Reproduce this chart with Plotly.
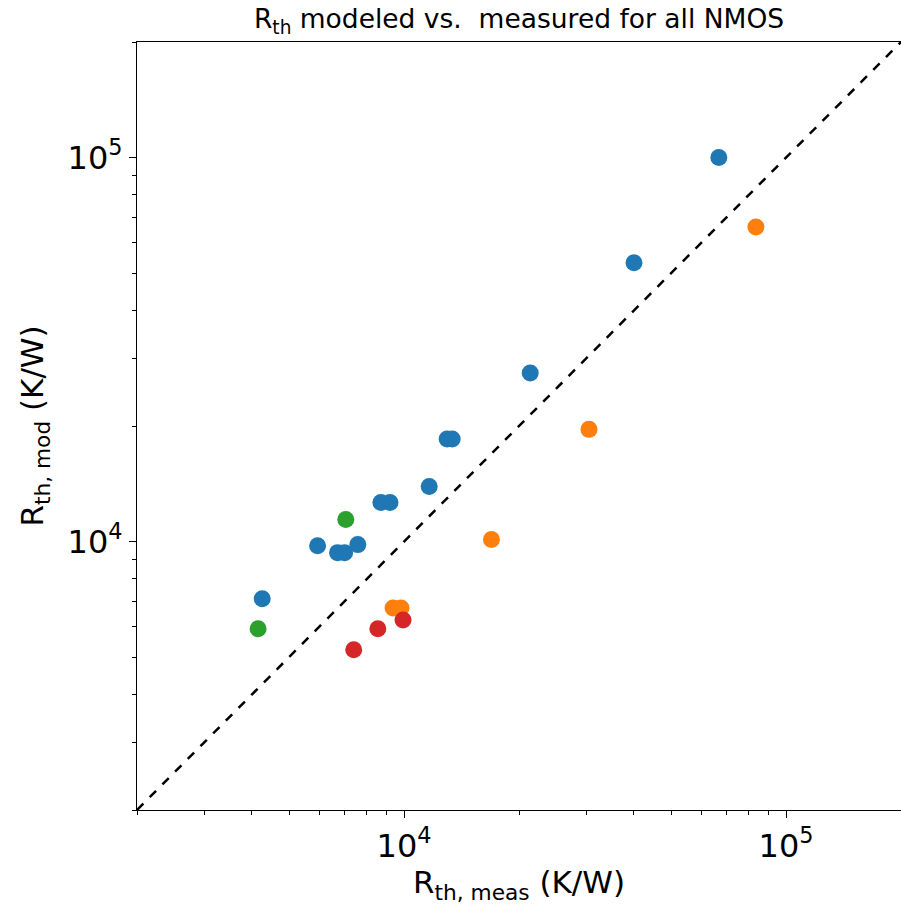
import plotly.graph_objects as go

blue_x = [66700, 40000, 21400, 12970, 13370, 11640, 8700, 9190, 5940, 6700, 6990, 7570, 4255]
blue_y = [100000, 53200, 27500, 18500, 18500, 13920, 12640, 12640, 9760, 9360, 9360, 9820, 7100]
orange_x = [83400, 30500, 16940, 9360, 9820]
orange_y = [66000, 19600, 10120, 6720, 6720]
green_x = [7040, 4150]
green_y = [11410, 5930]
red_x = [7385, 8540, 9940]
red_y = [5225, 5930, 6250]
diag = [2000, 200000]
major_ticks = [1e4, 1e5]
major_labels = ["10<sup>4</sup>", "10<sup>5</sup>"]
minor_ticks = [2000, 3000, 4000, 5000, 6000, 7000, 8000, 9000,
               20000, 30000, 40000, 50000, 60000, 70000, 80000, 90000, 200000]

fig = go.Figure()
fig.add_trace(go.Scatter(x=diag, y=diag, mode="lines",
                         line=dict(color="black", width=2.5, dash="dash"), hoverinfo="skip"))
for xs, ys, c in [(blue_x, blue_y, "#1f77b4"), (orange_x, orange_y, "#ff7f0e"),
                  (green_x, green_y, "#2ca02c"), (red_x, red_y, "#d62728")]:
    fig.add_trace(go.Scatter(x=xs, y=ys, mode="markers",
                             marker=dict(color=c, size=17, line=dict(width=0))))

axis_common = dict(type="log", range=[3.30103, 5.30103], showgrid=False, zeroline=False,
                   showline=True, linecolor="black", linewidth=1.2,
                   ticks="outside", ticklen=7, tickwidth=1.2, tickcolor="black",
                   tickvals=major_ticks, ticktext=major_labels,
                   tickfont=dict(family="DejaVu Sans", size=32, color="black"),
                   minor=dict(tickvals=minor_ticks, ticks="outside", ticklen=4,
                              tickwidth=1, tickcolor="black"))

fig.update_layout(
    width=901, height=909,
    margin=dict(l=137, r=0, t=42, b=99),
    plot_bgcolor="white", paper_bgcolor="white",
    showlegend=False,
    title=dict(text="R<sub>th</sub> modeled vs.  measured for all NMOS",
               x=(137 + 901) / 2 / 901, xanchor="center", y=1 - 19 / 909, yanchor="middle",
               font=dict(family="DejaVu Sans", size=26.5, color="black")),
    xaxis=dict(**axis_common, mirror=True,
               title=dict(text="R<sub>th, meas</sub> (K/W)", standoff=6,
                          font=dict(family="DejaVu Sans", size=31, color="black"))),
    yaxis=dict(**axis_common,
               title=dict(text="R<sub>th, mod</sub> (K/W)", standoff=14,
                          font=dict(family="DejaVu Sans", size=31, color="black"))),
)

fig.write_html("out.html")
